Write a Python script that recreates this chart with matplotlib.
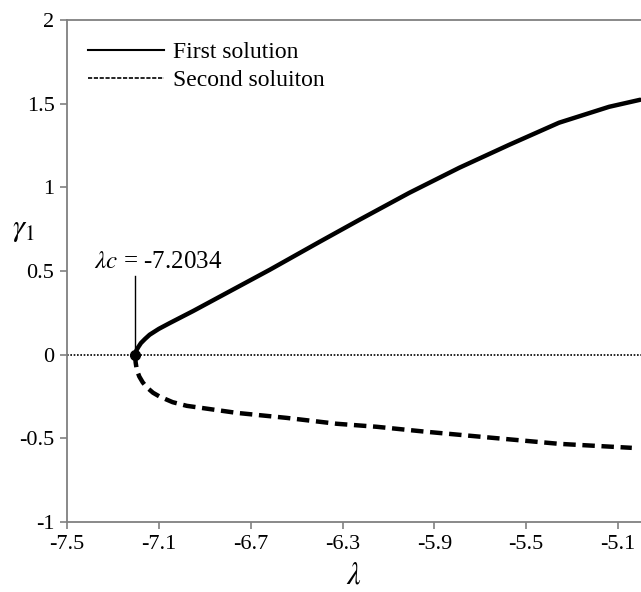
import matplotlib.pyplot as plt
from matplotlib.lines import Line2D

# first solution (upper branch)
lam1 = [-7.2034, -7.198, -7.19, -7.178, -7.16, -7.14, -7.10, -7.052, -6.95, -6.835,
        -6.617, -6.40, -6.226, -6.009, -5.791, -5.574, -5.357, -5.139, -5.004]
g1 = [0.0, 0.025, 0.045, 0.07, 0.095, 0.12, 0.155, 0.19, 0.262, 0.347,
      0.508, 0.675, 0.807, 0.968, 1.118, 1.255, 1.387, 1.482, 1.524]

# second solution (lower branch)
lam2 = [-7.2034, -7.201, -7.196, -7.185, -7.17, -7.152, -7.125, -7.096, -7.04,
        -6.978, -6.761, -6.543, -6.326, -6.152, -5.935, -5.648, -5.357, -5.04]
g2 = [0.0, -0.045, -0.09, -0.13, -0.165, -0.195, -0.227, -0.25, -0.283,
      -0.305, -0.347, -0.377, -0.412, -0.43, -0.46, -0.496, -0.532, -0.556]

lam_c = -7.2034

plt.rcParams['font.family'] = ['Liberation Serif', 'DejaVu Serif']
plt.rcParams['mathtext.fontset'] = 'stix'

fig = plt.figure(figsize=(6.41, 5.92), dpi=100)
ax = fig.add_axes([0.1045, 0.118, 0.8955, 0.848])

ax.axhline(0, color='black', linestyle=(0, (1, 1)), linewidth=1.2)
ax.plot(lam1, g1, color='black', linewidth=3.2, solid_capstyle='round')
ax.plot(lam2, g2, color='black', linewidth=3.2, linestyle=(0, (2.8, 1.5)))
ax.plot([lam_c], [0], 'o', color='black', markersize=7)
ax.plot([lam_c, lam_c], [0, 0.47], color='black', linewidth=1)
ax.text(lam_c + 0.1, 0.49, r'$\lambda c$ = -7.2034', fontsize=18, ha='center', va='bottom')

ax.set_xlim(-7.5, -5.0)
ax.set_ylim(-1, 2)
ax.set_xticks([-7.5, -7.1, -6.7, -6.3, -5.9, -5.5, -5.1])
ax.set_xticklabels(['-7.5', '-7.1', '-6.7', '-6.3', '-5.9', '-5.5', '-5.1'])
ax.set_yticks([-1, -0.5, 0, 0.5, 1, 1.5, 2])
ax.set_yticklabels(['-1', '-0.5', '0', '0.5', '1', '1.5', '2'])
ax.tick_params(axis='both', direction='out', length=5, width=1.2, color='#808080',
               labelsize=16, pad=4)

for side in ['left', 'bottom', 'top']:
    ax.spines[side].set_color('#808080')
    ax.spines[side].set_linewidth(1.3)
ax.spines['right'].set_visible(False)

ax.set_xlabel(r'$\lambda$', fontsize=22, labelpad=6)
ax.set_ylabel(r'$\gamma_1$', fontsize=22, rotation=0, labelpad=12)
ax.yaxis.set_label_coords(-0.075, 0.555)

handles = [Line2D([0], [0], color='black', linewidth=1.5),
           Line2D([0], [0], color='black', linewidth=1.2, linestyle=(0, (2.5, 1)))]
ax.legend(handles, ['First solution', 'Second soluiton'], loc='upper left',
          bbox_to_anchor=(0.0, 1.0), frameon=False, fontsize=17,
          handlelength=3.2, handletextpad=0.4, labelspacing=0.28)

fig.savefig('out.png', dpi=100)
